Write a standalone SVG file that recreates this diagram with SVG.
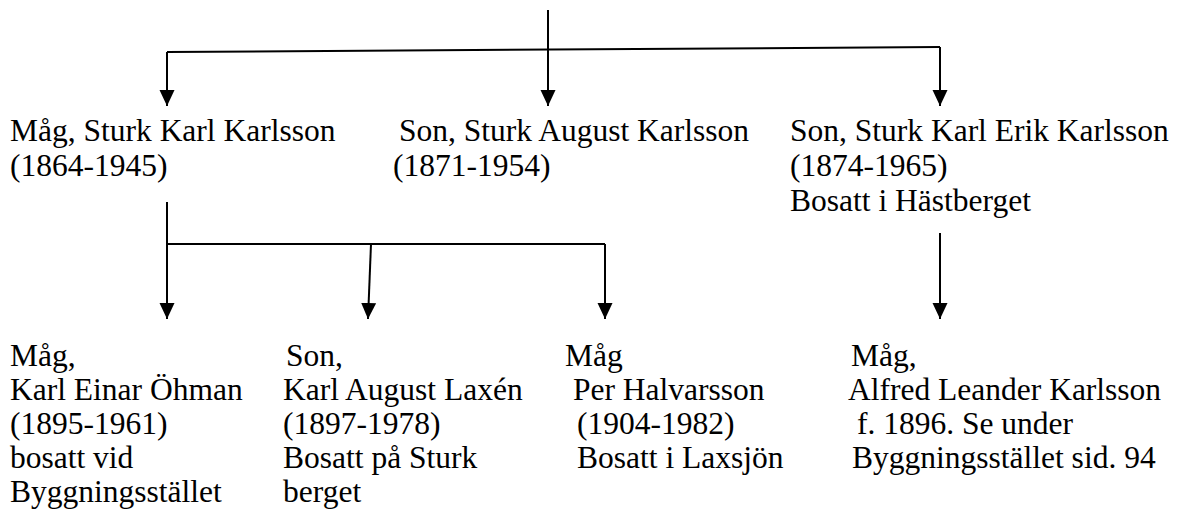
<svg xmlns="http://www.w3.org/2000/svg" width="1181" height="516" viewBox="0 0 1181 516">
<defs>
<marker id="ah" markerUnits="userSpaceOnUse" markerWidth="16" markerHeight="16" viewBox="0 0 16 16" refX="16" refY="8" orient="auto">
<path d="M0,0.5 L16,8 L0,15.5 Z" fill="#000"/>
</marker>
</defs>
<style>
text{font-family:"Liberation Serif","Times New Roman",serif;font-size:31.5px;fill:#000}
.c{stroke:#000;stroke-width:2;fill:none}
</style>
<rect width="1181" height="516" fill="#fff"/>
<g id="connectors">
<line class="c" x1="548" y1="10" x2="548" y2="106" marker-end="url(#ah)"/>
<line class="c" x1="167" y1="52" x2="940" y2="47"/>
<line class="c" x1="167" y1="52" x2="167" y2="106" marker-end="url(#ah)"/>
<line class="c" x1="940" y1="47" x2="940" y2="106" marker-end="url(#ah)"/>
<line class="c" x1="167" y1="202" x2="167" y2="319" marker-end="url(#ah)"/>
<line class="c" x1="167" y1="244" x2="605" y2="244"/>
<line class="c" x1="371" y1="244" x2="368" y2="319" marker-end="url(#ah)"/>
<line class="c" x1="605" y1="244" x2="605" y2="319" marker-end="url(#ah)"/>
<line class="c" x1="940" y1="233" x2="940" y2="319" marker-end="url(#ah)"/>
</g>
<g id="n1"><text x="10" y="141">Måg, Sturk Karl Karlsson</text><text x="10" y="176">(1864-1945)</text></g>
<g id="n2"><text x="399" y="141">Son, Sturk August Karlsson</text><text x="393" y="176">(1871-1954)</text></g>
<g id="n3"><text x="790" y="141">Son, Sturk Karl Erik Karlsson</text><text x="790" y="176">(1874-1965)</text><text x="790" y="211">Bosatt i Hästberget</text></g>
<g id="n4"><text x="10" y="366">Måg,</text><text x="10" y="400">Karl Einar Öhman</text><text x="10" y="434">(1895-1961)</text><text x="10" y="468">bosatt vid</text><text x="10" y="502">Byggningsstället</text></g>
<g id="n5"><text x="286" y="366">Son,</text><text x="283" y="400">Karl August Laxén</text><text x="283" y="434">(1897-1978)</text><text x="283" y="468">Bosatt på Sturk</text><text x="283" y="502">berget</text></g>
<g id="n6"><text x="565" y="366">Måg</text><text x="573" y="400">Per Halvarsson</text><text x="577" y="434">(1904-1982)</text><text x="577" y="468">Bosatt i Laxsjön</text></g>
<g id="n7"><text x="851" y="366">Måg,</text><text x="848" y="400">Alfred Leander Karlsson</text><text x="857" y="434">f. 1896. Se under</text><text x="852" y="468">Byggningsstället sid. 94</text></g>
</svg>
